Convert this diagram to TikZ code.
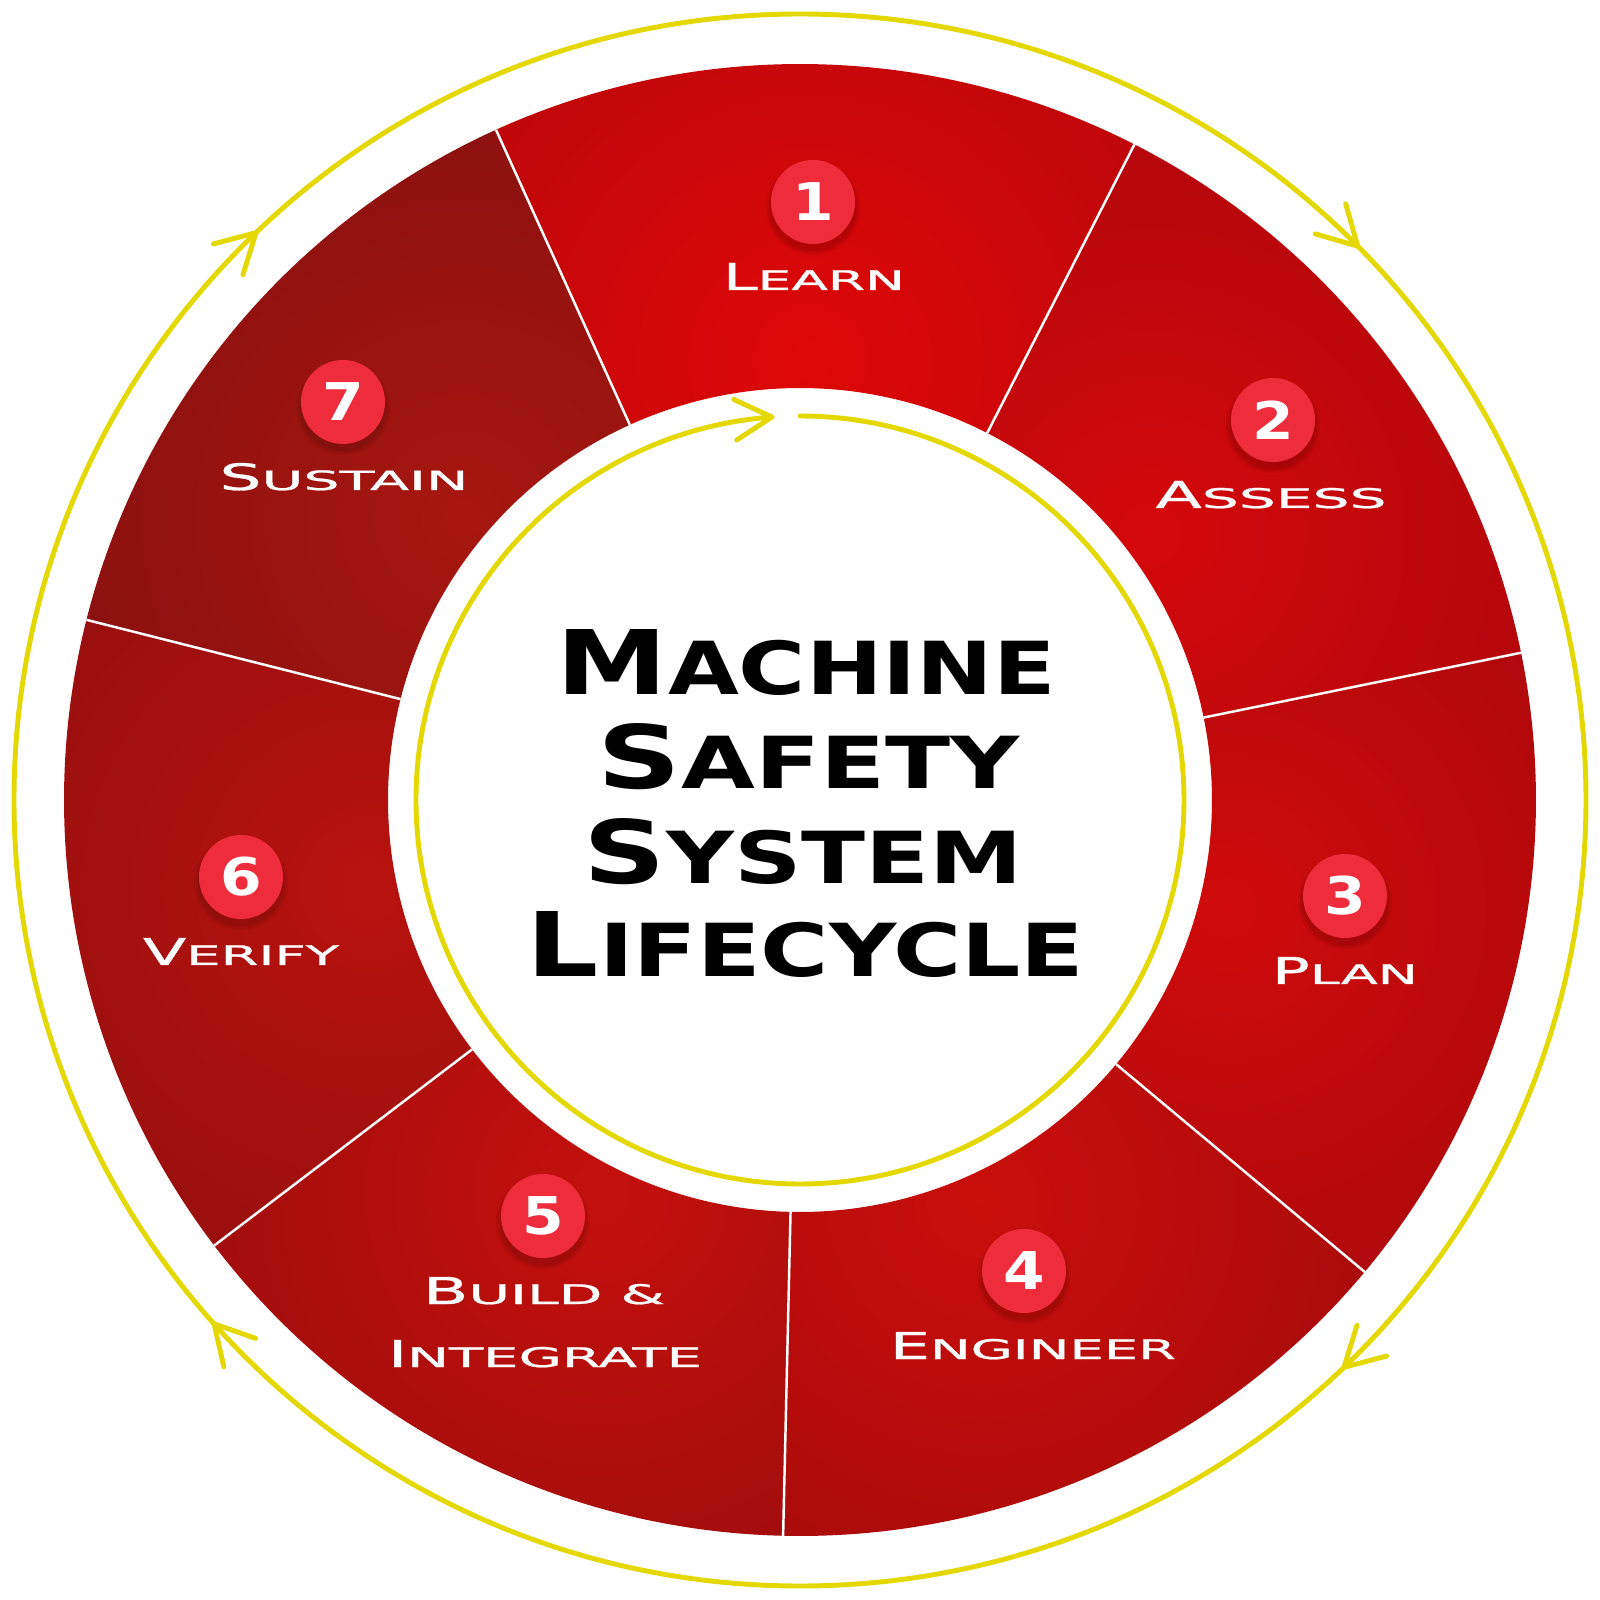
\documentclass[tikz,border=0pt]{standalone}
\usepackage{fontspec}
\usepackage{graphicx}
\newfontfamily\lblfont[FakeBold=0.8]{DejaVu Sans}
\newfontfamily\ttlfont{DejaVu Sans}
\newfontfamily\numfont{DejaVu Sans}
\newlength\pxu
\setlength\pxu{0.01cm}
\definecolor{ylw}{RGB}{228,216,0}
\definecolor{numred}{RGB}{238,44,60}
\definecolor{c1i}{RGB}{222,8,8}\definecolor{c1o}{RGB}{158,4,10}
\definecolor{c2i}{RGB}{212,8,10}\definecolor{c2o}{RGB}{146,6,14}
\definecolor{c3i}{RGB}{208,10,10}\definecolor{c3o}{RGB}{140,8,16}
\definecolor{c4i}{RGB}{202,14,10}\definecolor{c4o}{RGB}{136,8,14}
\definecolor{c5i}{RGB}{196,16,12}\definecolor{c5o}{RGB}{128,10,14}
\definecolor{c6i}{RGB}{184,18,14}\definecolor{c6o}{RGB}{120,12,16}
\definecolor{c7i}{RGB}{168,22,16}\definecolor{c7o}{RGB}{108,12,16}
\newcommand{\lbl}[3]{\resizebox{#1\pxu}{27\pxu}{\lblfont #2\scalebox{0.86}[0.73]{#3}}}
\newcommand{\ttl}[3]{\resizebox{#1\pxu}{65\pxu}{\ttlfont\bfseries #2\scalebox{0.82}{#3}}}
\newcommand{\numtxt}[1]{\scalebox{1.15}[1]{\fontsize{14.8}{15}\numfont\bfseries #1}}
\begin{document}
\begin{tikzpicture}[x=0.01cm,y=0.01cm,
  lab/.style={anchor=base,inner sep=0pt,text=white},
  ttlnode/.style={anchor=base,inner sep=0pt,text=black},
  numc/.style={circle,fill=numred,minimum size=84\pxu,inner sep=0pt,text=white},
  ylwline/.style={draw=ylw,line width=1.4pt,line cap=round,line join=round}]
\useasboundingbox (-800,-800) rectangle (800,800);
\fill[white] (-800,-800) rectangle (800,800);
% segments
\foreach \k/\ci/\co in {1/c1i/c1o,2/c2i/c2o,3/c3i/c3o,4/c4i/c4o,5/c5i/c5o,6/c6i/c6o,7/c7i/c7o}{
  \pgfmathsetmacro\sa{114.4-51.4286*(\k-1)}
  \pgfmathsetmacro\ea{\sa-51.4286}
  \pgfmathsetmacro\ma{\sa-25.7143}
  \begin{scope}
    \clip (\sa:412) arc[start angle=\sa,end angle=\ea,radius=412] -- (\ea:736) arc[start angle=\ea,end angle=\sa,radius=736] -- cycle;
    \shade[inner color=\ci,outer color=\co] (\ma:440) circle (820);
  \end{scope}
}
% dividers
\foreach \k in {0,...,6}{
  \draw[white,line width=0.7pt] ({114.4-51.4286*\k}:412) -- ({114.4-51.4286*\k}:736);
}
% outer yellow ring with arrowheads
\draw[ylwline] (0,0) circle (786);
\foreach \p in {133.8,44.8,-46.2,-138.2}{
  \draw[ylwline] (\p:786) ++({\p+61}:44) -- (\p:786) -- ++({\p+119}:44);
}
% inner yellow ring with arrowhead
\draw[ylwline] (90:384) arc[start angle=90,end angle=-265.8,radius=384];
\draw[ylwline] (94.2:384) ++(155.2:42) -- (94.2:384) -- ++(213.2:42);
% number circles with soft shadow
\foreach \x/\y in {13/598,473/380,545/-96,224/-471,-257/-416,-559/-77,-457/398}{
  \foreach \r in {43,45,47}{
    \fill[black,opacity=0.05] (\x,\y-6) circle (\r);
  }
}
\node[numc] (n1) at (13,598) {\numtxt{1}};
\node[numc] (n2) at (473,380) {\numtxt{2}};
\node[numc] (n3) at (545,-96) {\numtxt{3}};
\node[numc] (n4) at (224,-471) {\numtxt{4}};
\node[numc] (n5) at (-257,-416) {\numtxt{5}};
\node[numc] (n6) at (-559,-77) {\numtxt{6}};
\node[numc] (n7) at (-457,398) {\numtxt{7}};
% labels
\node[lab] (l1) at (14,510) {\lbl{182}{L}{EARN}};
\node[lab] (l2) at (471,292) {\lbl{231}{A}{SSESS}};
\node[lab] (l3) at (545,-184) {\lbl{146}{P}{LAN}};
\node[lab] (l4) at (233,-559) {\lbl{286}{E}{NGINEER}};
\node[lab] (l5a) at (-256,-504) {\lbl{242}{B}{UILD \&}};
\node[lab] (l5b) at (-255,-567) {\lbl{314}{I}{NTEGRATE}};
\node[lab] (l6) at (-559,-165) {\lbl{196}{V}{ERIFY}};
\node[lab] (l7) at (-456,310) {\lbl{249}{S}{USTAIN}};
% title
\node[ttlnode] (t1) at (6.5,105) {\ttl{499}{M}{ACHINE}};
\node[ttlnode] (t2) at (9,11) {\ttl{422}{S}{AFETY}};
\node[ttlnode] (t3) at (3.5,-84) {\ttl{439}{S}{YSTEM}};
\node[ttlnode] (t4) at (5.5,-177) {\ttl{557}{L}{IFECYCLE}};
\end{tikzpicture}
\end{document}
